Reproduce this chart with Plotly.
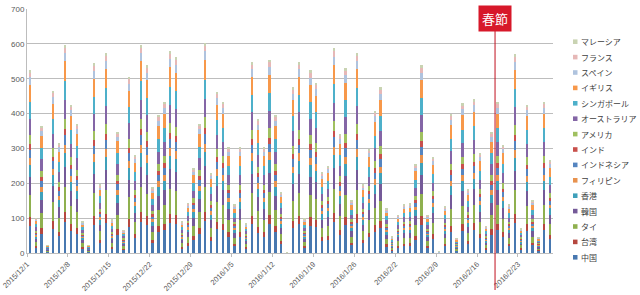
import plotly.graph_objects as go
import pandas as pd

# ---- data ----
start_date = "2015-12-01"
n_days = 90
# total height of each daily stacked bar (2015/12/1 .. 2016/2/28)
totals = [525, 100, 365, 22, 465, 316, 598, 426, 371, 90,
          22, 544, 197, 574, 95, 348, 65, 506, 280, 598,
          539, 187, 395, 433, 579, 562, 89, 143, 243, 370,
          603, 230, 462, 433, 303, 138, 303, 84, 549, 384,
          303, 555, 395, 174, 2, 476, 549, 98, 524, 489,
          231, 250, 587, 341, 531, 150, 574, 196, 298, 408,
          476, 127, 46, 108, 139, 141, 255, 539, 108, 274,
          3, 133, 398, 41, 429, 181, 441, 286, 76, 347,
          433, 311, 138, 570, 69, 426, 150, 45, 433, 266]

# series, bottom of the stack to top
names = ["中国", "台湾", "タイ", "韓国", "香港", "フィリピン", "インドネシア", "インド",
         "アメリカ", "オーストラリア", "シンガポール", "イギリス", "スペイン", "フランス", "マレーシア"]
# share of each colour band within a bar
shares = [0.15, 0.045, 0.12, 0.10, 0.065, 0.04, 0.045, 0.03,
          0.05, 0.09, 0.09, 0.095, 0.04, 0.025, 0.015]
colors = ["#4878B0", "#B5473F", "#8FB04F", "#745A98", "#3FA0BA", "#E8924E", "#5585C0", "#C8504C",
          "#A0C060", "#8466A6", "#4DB0CA", "#F7984A", "#AFC3DE", "#E6B8B7", "#C9D3B2"]

# weekly labels (Excel places them at the category boundary before the day)
tick_dates = ["2015-11-30 12:00", "2015-12-07 12:00", "2015-12-14 12:00", "2015-12-21 12:00",
              "2015-12-28 12:00", "2016-01-04 12:00", "2016-01-11 12:00", "2016-01-18 12:00",
              "2016-01-25 12:00", "2016-02-01 12:00", "2016-02-08 12:00", "2016-02-15 12:00",
              "2016-02-22 12:00"]
tick_text = ["2015/12/1", "2015/12/8", "2015/12/15", "2015/12/22", "2015/12/29",
             "2016/1/5", "2016/1/12", "2016/1/19", "2016/1/26", "2016/2/2",
             "2016/2/9", "2016/2/16", "2016/2/23"]

event_label = "春節"
event_x = "2016-02-18 14:00"

# ---- figure ----
W, H = 640, 295
PL, PR, PT, PB = 27, 87, 9, 42
pw, ph = W - PL - PR, H - PT - PB


def px_x(px):
    return (px - PL) / pw


def px_y(py):
    return (H - PB - py) / ph


dates = pd.date_range(start_date, periods=n_days, freq="D")
ssum = sum(shares)

fig = go.Figure()
for name, share, col in zip(names, shares, colors):
    fig.add_trace(go.Bar(
        x=dates, y=[t * share / ssum for t in totals], name=name,
        marker=dict(color=col, line=dict(width=0)), showlegend=False,
    ))

grid = "#BDBDBD"
fig.update_layout(
    width=W, height=H, barmode="stack", bargap=0.6,
    margin=dict(l=PL, r=PR, t=PT, b=PB, autoexpand=False),
    paper_bgcolor="white", plot_bgcolor="white",
    font=dict(family="Noto Sans CJK JP, Noto Sans, sans-serif", color="#595959", size=8),
    xaxis=dict(type="date", range=["2015-11-30 12:00", "2016-02-28 12:00"],
               tickvals=tick_dates, ticktext=tick_text, tickangle=-45,
               tickfont=dict(size=7.5, family="Liberation Sans", color="#595959"),
               ticklabeloverflow="allow", automargin=False,
               showgrid=False, showline=True, linecolor=grid, linewidth=1,
               ticks="outside", ticklen=3, tickcolor=grid, fixedrange=True),
    yaxis=dict(range=[0, 700], dtick=100, showgrid=True, gridcolor=grid, gridwidth=1,
               zeroline=False, showline=True, linecolor=grid, linewidth=1,
               tickfont=dict(size=8, family="Liberation Sans", color="#595959"),
               automargin=False, ticks="", fixedrange=True),
)

# legend drawn as annotations (top = last series)
for i, (name, col) in enumerate(zip(names[::-1], colors[::-1])):
    yc = 41.7 + i * 15.4
    fig.add_shape(type="rect", xref="paper", yref="paper",
                  x0=px_x(573), x1=px_x(577.5), y0=px_y(yc + 2.3), y1=px_y(yc - 2.3),
                  fillcolor=col, line=dict(width=0))
    fig.add_annotation(xref="paper", yref="paper", x=px_x(579), y=px_y(yc),
                       xanchor="left", yanchor="middle", text=name, showarrow=False,
                       font=dict(size=8, color="#404040",
                                 family="Noto Sans CJK JP"))

# Spring festival marker
fig.add_shape(type="line", xref="x", yref="paper", x0=event_x, x1=event_x,
              y0=px_y(290), y1=px_y(29), line=dict(color="#C0101E", width=1))
fig.add_annotation(xref="x", yref="paper", x=event_x, y=px_y(5), yanchor="top",
                   xanchor="center", text=event_label, showarrow=False,
                   bgcolor="#D7182A", borderpad=3,
                   font=dict(size=13, color="white", family="Noto Sans CJK JP"))

fig.write_html("out.html")
